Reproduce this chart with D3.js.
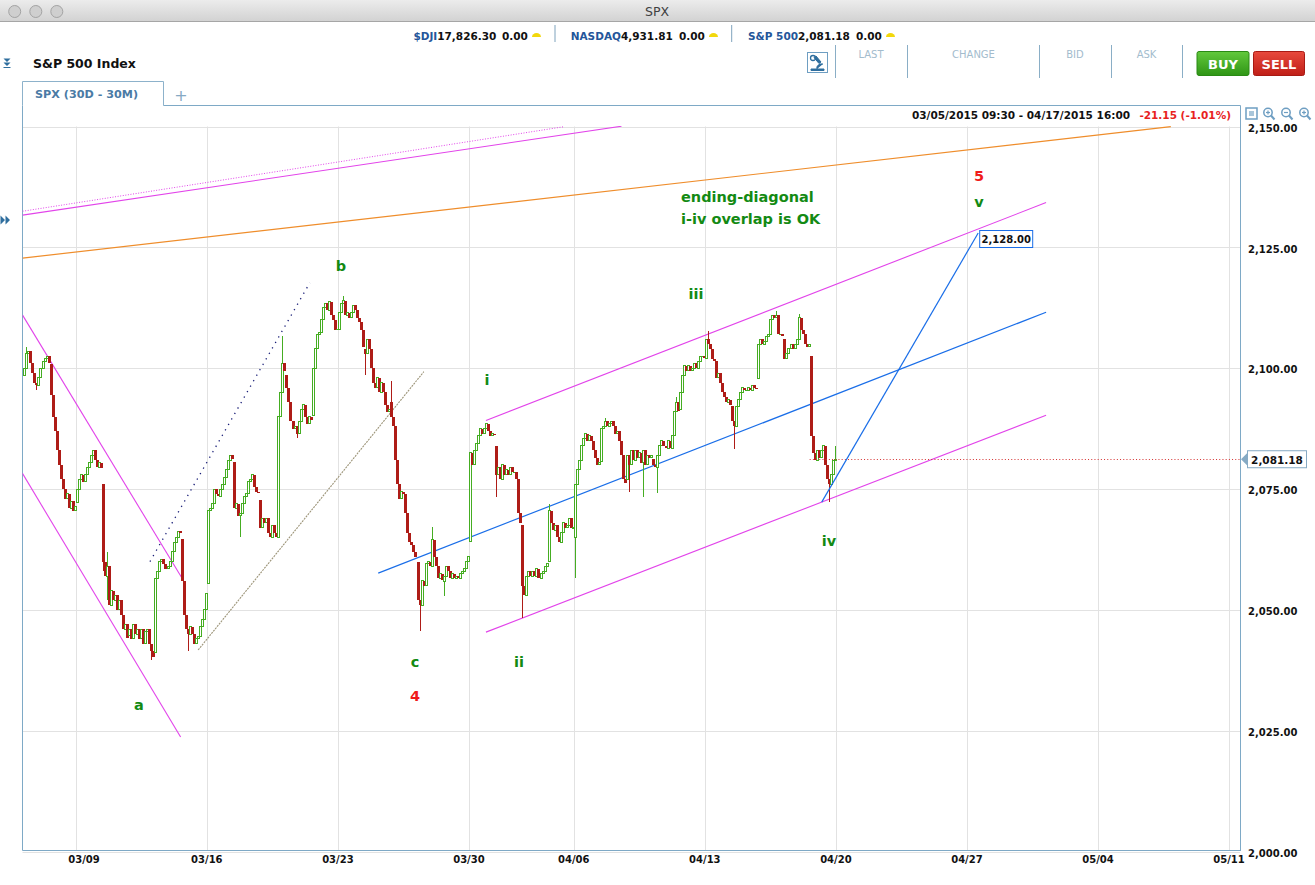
<!DOCTYPE html>
<html><head><meta charset="utf-8">
<script src="https://cdn.jsdelivr.net/npm/d3@7"></script>
<style>
html,body{margin:0;padding:0;background:#fff;overflow:hidden}
svg text{font-family:"DejaVu Sans",Verdana,sans-serif}
</style></head><body>
<svg id="c" width="1315" height="885"></svg>
<script>
// ---------------- DATA ----------------
const tradingDays = ["03/05","03/06","03/09","03/10","03/11","03/12","03/13","03/16","03/17","03/18","03/19","03/20",
  "03/23","03/24","03/25","03/26","03/27","03/30","03/31","04/01","04/02","04/06","04/07","04/08","04/09","04/10",
  "04/13","04/14","04/15","04/16","04/17"];
const dayOpens = [2098.5,2100.9,2072.3,2076.1,2044.7,2041.1,2064.6,2055.4,2080.6,2072.8,2098.7,2090.3,
  2108.0,2103.9,2093.1,2059.9,2055.8,2064.1,2084.0,2067.6,2060.0,2064.9,2080.8,2076.9,2081.3,2091.5,
  2102.0,2092.3,2097.8,2106.0,2102.6];
// 13 half-hour closes per trading day
const closes = [
  [2100,2103,2103.5,2101,2099,2097,2096.5,2098,2100,2101.5,2102,2102.5,2101.0],
  [2094.5,2090,2087,2083,2080,2077,2075,2073,2074,2071,2072.5,2070.5,2071.3],
  [2075,2077,2078,2076.5,2078,2079.5,2080.5,2082,2083,2081,2079.5,2080.5,2079.4],
  [2060,2057,2059,2051,2054,2052,2053,2050,2052,2049,2046,2047,2044.2],
  [2046,2044,2047,2045,2046,2044,2046,2043,2045.5,2046,2043,2041.5,2040.2],
  [2056.5,2058,2060,2060.5,2059.5,2058.5,2059,2060,2062,2064,2065,2066.3,2066.0],
  [2056,2049,2046,2045,2046.5,2045,2043,2044,2044.5,2046.5,2048,2050,2053.4],
  [2070.5,2071,2072,2075,2074,2073.5,2075,2076,2077.5,2079,2081,2082,2081.2],
  [2071,2072,2069.5,2070,2072,2073.5,2074,2076.5,2077,2078,2075.5,2074.5,2074.3],
  [2067,2069,2068,2069,2066,2065,2067.5,2066,2065,2090,2095,2101,2099.5],
  [2096,2093,2089,2087.5,2088,2086.5,2089,2091.5,2092.5,2090,2088.5,2090,2089.3],
  [2100,2104,2107,2107.5,2110,2112.5,2113.5,2112,2113.8,2111,2110,2108,2108.1],
  [2111.5,2113.5,2114,2111,2111.5,2110.5,2111.5,2113,2112,2110.5,2109.5,2108,2104.4],
  [2103,2106,2104,2100,2097,2096,2098,2095,2097,2095,2092.5,2091,2091.5],
  [2090,2088,2081,2076,2073,2074.5,2074,2070,2066,2064,2063.5,2062,2061],
  [2052,2051,2056,2055,2059.5,2060,2059,2064.5,2061,2059,2056.5,2057.5,2056.2],
  [2057,2059,2058,2056.5,2057.5,2056.5,2057,2056.5,2057.5,2058,2058.5,2060,2061],
  [2082.5,2080,2083,2084.5,2086,2087.5,2086.5,2087.5,2088.5,2087,2086,2086.5,2086.2],
  [2078,2079.5,2077,2080,2078,2079,2078,2079.5,2078.5,2078.5,2077,2070,2067.9],
  [2055,2053,2057,2058,2057,2058,2057,2058.5,2056.5,2057.5,2058,2059,2059.7],
  [2070.5,2068,2066.5,2067.5,2065,2064,2066,2068,2067,2067.5,2069,2067,2067],
  [2076,2079,2081,2084,2085.5,2086.5,2085,2086,2085,2083,2081.5,2080,2080.6],
  [2087.5,2088,2089,2088,2088.5,2089,2088,2086.5,2087,2085,2082,2077,2076.3],
  [2082,2080,2083,2081,2083,2081.5,2082.5,2080.5,2083,2080,2082,2081.5,2081.9],
  [2080,2079.5,2082,2084,2085,2084,2083.5,2085,2083.5,2086,2091,2093,2091.2],
  [2095,2098.5,2100.5,2099.5,2100.5,2099.5,2100,2101,2100,2101.5,2102.5,2102.5,2102.1],
  [2106,2105,2104,2102,2101.5,2098,2099,2097,2095,2094,2093,2093.5,2092.4],
  [2089,2088,2092,2093.5,2095,2096,2095.5,2095.5,2096,2095.5,2096.5,2096,2095.8],
  [2105,2106,2105,2105.5,2106.5,2107,2110,2111,2110.5,2111,2107,2107,2106.6],
  [2102,2103,2104,2105,2104,2105,2106,2110.5,2108,2107,2105,2104.5,2105.0],
  [2086,2082.5,2081,2083,2081.5,2083,2084,2080,2077,2076,2078,2081,2081.2]
];
// notable wick extremes: [day, bar, high, low]
const wickExtremes = [
  [0,1,2104.5,null],[0,6,null,2095.5],[3,0,null,2058],[3,2,2062,2052],[4,11,null,2039.7],
  [5,12,2066.4,null],[6,3,null,2041.5],[8,3,null,2065.1],[9,11,2106.7,null],[10,5,null,2085.6],
  [11,8,2113.9,null],[12,2,2114.9,null],[13,0,null,2098.6],[14,0,2097.4,null],[15,1,null,2045.7],
  [15,7,2067.2,null],[16,0,null,2052.8],[18,0,null,2073.4],[19,0,null,2048.4],[20,0,2072,null],
  [21,0,null,2056.5],[22,2,2089.8,null],[23,1,null,2074.5],[23,8,null,2073.3],[24,2,null,2074.2],
  [24,11,2094,null],[26,1,2107.7,null],[27,1,null,2083.2],[28,9,2111.9,null],[29,7,2111.3,null],
  [30,9,null,2072.4],[30,12,2084,null]
];
const tickDays = [2,7,12,17,21,26,31,36,41,46];
const tickLabels = ["03/09","03/16","03/23","03/30","04/06","04/13","04/20","04/27","05/04","05/11"];
const priceTicks = [2000,2025,2050,2075,2100,2125,2150];
const lastPrice = 2081.18;
const targetPrice = 2128.00;
// trend lines: [day0, price0, day1, price1]
const leftChannel = [[-0.03,2111.0,6.05,2056.6],[-0.04,2078.3,6.0,2023.7]];
const rightChannel = [[17.65,2089.2,39.02,2134.3],[17.65,2045.4,39.02,2090.3]];
const topMagenta = [-0.03,2131.7,22.82,2150.1];
const topMagentaDotted = [-0.03,2132.5,20.63,2150.0];
const orangeLine = [-0.03,2122.8,43.78,2150.0];
const dottedB = [4.83,2060.0,10.93,2117.7];
const tanLine = [6.67,2041.7,15.28,2099.3];
const blueMid = [13.54,2057.6,39.02,2111.6];
const blueProj = [30.46,2072.3,36.43,targetPrice];
const waveLabels = ["a","b","c","4","i","ii","iii","iv","5","v"];
const waveDays = [4.41,12.12,14.94,14.94,17.69,18.91,25.66,30.74,36.46,36.46];
const wavePrices = [2030.3,2121.2,2039.2,2032.2,2097.6,2039.2,2115.4,2064.2,2139.8,2134.4];
const noteLines = ["ending-diagonal","i-iv overlap is OK"];
const noteDay = 25.09;
const notePrices = [2135.4,2130.9];
const tickers = [["$DJI","17,826.30","0.00"],["NASDAQ","4,931.81","0.00"],["S&P 500","2,081.18","0.00"]];
const quoteHeads = ["LAST","CHANGE","BID","ASK"];

// ---------------- DRAW ----------------
const svg = d3.select("#c");
const x = d3.scaleLinear().domain([-0.04,46.43]).range([22.3,1240.3]);
const y = d3.scaleLinear().domain([2000,2150]).range([851.5,126.7]);
const GREEN="#45ad22", RED="#ae1c17", MAG="#e244ea", BLUE="#1a6ee8", LBL="#138a13";

const defs = svg.append("defs");
const tg = defs.append("linearGradient").attr("id","tb").attr("x1",0).attr("y1",0).attr("x2",0).attr("y2",1);
tg.append("stop").attr("offset","0").attr("stop-color","#ececec");
tg.append("stop").attr("offset","1").attr("stop-color","#d2d2d2");
const bg = defs.append("linearGradient").attr("id","buy").attr("x1",0).attr("y1",0).attr("x2",0).attr("y2",1);
bg.append("stop").attr("offset","0").attr("stop-color","#62c93c");
bg.append("stop").attr("offset","1").attr("stop-color","#2f9516");
const sg = defs.append("linearGradient").attr("id","sell").attr("x1",0).attr("y1",0).attr("x2",0).attr("y2",1);
sg.append("stop").attr("offset","0").attr("stop-color","#e8493c");
sg.append("stop").attr("offset","1").attr("stop-color","#bf1f18");
defs.append("clipPath").attr("id","clip").append("rect").attr("x",22.5).attr("y",126).attr("width",1217.5).attr("height",724);

// window title bar
svg.append("rect").attr("x",0).attr("y",0).attr("width",1315).attr("height",21.5).attr("fill","url(#tb)");
svg.append("line").attr("x1",0).attr("x2",1315).attr("y1",21.5).attr("y2",21.5).attr("stroke","#a6a6a6");
[14.7,35.8,56.8].forEach(cx=>svg.append("circle").attr("cx",cx).attr("cy",11.5).attr("r",6).attr("fill","#cfcfcf").attr("stroke","#a3a3a3"));
svg.append("text").attr("x",657).attr("y",11.5).attr("dominant-baseline","central").attr("text-anchor","middle")
  .attr("font-size",12.5).attr("fill","#404040").text("SPX");

// ticker strip
const tickStarts=[413.4,570.7,748], zeroX=[502,679,856], sepX=[555,731.7];
tickers.forEach((t,i)=>{
  const tx = svg.append("text").attr("x",tickStarts[i]).attr("y",36).attr("dominant-baseline","central")
    .attr("font-size",10.5).attr("font-weight","bold");
  tx.append("tspan").attr("fill","#24569a").text(t[0]);
  tx.append("tspan").attr("fill","#111").text(t[1]);
  svg.append("text").attr("x",zeroX[i]).attr("y",36).attr("dominant-baseline","central")
    .attr("font-size",10.5).attr("font-weight","bold").attr("fill","#111").text(t[2]);
  const ix = zeroX[i]+30;
  svg.append("path").attr("d",`M${ix},37 a4.5,4 0 0 1 9,0 z`).attr("fill","#f2d80c");
});
sepX.forEach(sx=>svg.append("line").attr("x1",sx).attr("x2",sx).attr("y1",25).attr("y2",42).attr("stroke","#7fa3bd"));

// left title
svg.append("path").attr("d","M3.5,58.5 h7 l-3.5,3.5 z M3.5,62.5 h7 l-3.5,3.5 z").attr("fill","#2f6e9e");
svg.append("line").attr("x1",3.5).attr("x2",10.5).attr("y1",67.5).attr("y2",67.5).attr("stroke","#2f6e9e");
svg.append("text").attr("x",33).attr("y",63).attr("dominant-baseline","central").attr("font-size",12.5)
  .attr("font-weight","bold").attr("fill","#111").text("S&P 500 Index");
svg.append("path").attr("d","M0.5,215.5 l4.5,4.5 l-4.5,4.5 z M5.5,215.5 l4.5,4.5 l-4.5,4.5 z").attr("fill","#2f6e9e");

// microscope icon + quote headers
svg.append("rect").attr("x",807.5).attr("y",52.5).attr("width",20).attr("height",20).attr("fill","#fff").attr("stroke","#6e9ec2");
svg.append("circle").attr("cx",813).attr("cy",58).attr("r",2.5).attr("fill","none").attr("stroke","#2f6e9e").attr("stroke-width",1.3);
svg.append("path").attr("d","M816,56 l5,6 l-2,1.5 l-5,-6 z M811,69 h13 v1.5 h-13 z M817,69 a5,4 0 0 1 6,-5").attr("fill","#2f6e9e").attr("stroke","#2f6e9e");
[835.5,907.5,1039.5,1111.5,1182.5].forEach(sx=>svg.append("line").attr("x1",sx).attr("x2",sx).attr("y1",45).attr("y2",78).attr("stroke","#8aaec6"));
[871,973.5,1075,1146.5].forEach((cx,i)=>svg.append("text").attr("x",cx).attr("y",54).attr("dominant-baseline","central")
  .attr("text-anchor","middle").attr("font-size",10).attr("fill","#a3bccd").text(quoteHeads[i]));
svg.append("rect").attr("x",1197).attr("y",51.5).attr("width",52).attr("height",24).attr("rx",2).attr("fill","url(#buy)").attr("stroke","#2a8a14");
svg.append("rect").attr("x",1253.5).attr("y",51.5).attr("width",51).attr("height",24).attr("rx",2).attr("fill","url(#sell)").attr("stroke","#a81a14");
svg.append("text").attr("x",1223).attr("y",64).attr("dominant-baseline","central").attr("text-anchor","middle")
  .attr("font-size",13).attr("font-weight","bold").attr("fill","#fff").text("BUY");
svg.append("text").attr("x",1279).attr("y",64).attr("dominant-baseline","central").attr("text-anchor","middle")
  .attr("font-size",13).attr("font-weight","bold").attr("fill","#fff").text("SELL");

// tab
svg.append("path").attr("d","M22.5,105.5 V81.5 H163.5 V105.5").attr("fill","none").attr("stroke","#8db2cb");
svg.append("text").attr("x",35).attr("y",94.5).attr("dominant-baseline","central").attr("font-size",11.2)
  .attr("font-weight","bold").attr("fill","#4b7ba5").text("SPX (30D - 30M)");
svg.append("text").attr("x",181).attr("y",95).attr("dominant-baseline","central").attr("text-anchor","middle")
  .attr("font-size",16).attr("fill","#86a9c4").text("+");

// grid
const grid = svg.append("g");
priceTicks.forEach(p=>grid.append("line").attr("x1",22.5).attr("x2",1240).attr("y1",Math.round(y(p))+0.5).attr("y2",Math.round(y(p))+0.5)
  .attr("stroke","#e2e2e2"));
tickDays.forEach(d=>grid.append("line").attr("x1",Math.round(x(d))+0.5).attr("x2",Math.round(x(d))+0.5).attr("y1",126.5).attr("y2",850)
  .attr("stroke","#e2e2e2"));

// frame
svg.append("path").attr("d","M163.5,105.5 H1240.5 V851 M22.5,105.5 V850.5 H1240.5").attr("fill","none").attr("stroke","#7ea9c6");

// header strip
svg.append("text").attr("x",1130).attr("y",114.5).attr("dominant-baseline","central").attr("text-anchor","end")
  .attr("font-size",10.5).attr("font-weight","bold").attr("fill","#111").text("03/05/2015 09:30 - 04/17/2015 16:00");
svg.append("text").attr("x",1231).attr("y",114.5).attr("dominant-baseline","central").attr("text-anchor","end")
  .attr("font-size",10.5).attr("font-weight","bold").attr("fill","#e8221e").text("-21.15 (-1.01%)");
// toolbar icons
const ic = svg.append("g").attr("stroke","#6e9ec2").attr("fill","none").attr("stroke-width",1.5);
ic.append("rect").attr("x",1246).attr("y",108).attr("width",11).attr("height",11);
ic.append("rect").attr("x",1249).attr("y",111).attr("width",5).attr("height",5).attr("fill","#a9c6da").attr("stroke","none");
[[1268,1],[1286,0],[1304,1]].forEach(([cx,plus])=>{
  ic.append("circle").attr("cx",cx).attr("cy",112.5).attr("r",4.2);
  ic.append("line").attr("x1",cx+3).attr("y1",115.5).attr("x2",cx+6.5).attr("y2",119.5).attr("stroke-width",2);
  ic.append("line").attr("x1",cx-2).attr("x2",cx+2).attr("y1",112.5).attr("y2",112.5).attr("stroke-width",1.2);
  if(plus) ic.append("line").attr("x1",cx).attr("x2",cx).attr("y1",110.5).attr("y2",114.5).attr("stroke-width",1.2);
});

// axes labels
priceTicks.forEach(p=>svg.append("text").attr("x",1248).attr("y",y(p)+1.5).attr("dominant-baseline","central")
  .attr("font-size",10).attr("font-weight","bold").attr("fill","#111").text(d3.format(",.2f")(p)));
tickDays.forEach((d,i)=>svg.append("text").attr("x",Math.max(x(d),84)).attr("y",859.5).attr("dominant-baseline","central")
  .attr("text-anchor","middle").attr("font-size",10).attr("font-weight","bold").attr("fill","#111").text(tickLabels[i]));

// plot content
const pg = svg.append("g").attr("clip-path","url(#clip)");
function seg(l,color,w,dash){
  const s = pg.append("line").attr("x1",x(l[0])).attr("y1",y(l[1])).attr("x2",x(l[2])).attr("y2",y(l[3]))
    .attr("stroke",color).attr("stroke-width",w);
  if(dash) s.attr("stroke-dasharray",dash);
  return s;
}
seg(topMagentaDotted,MAG,1,"1,1.6");
seg(topMagenta,MAG,1.1);
seg(orangeLine,"#ef8d2b",1.2);
leftChannel.forEach(l=>seg(l,MAG,1.1));
seg(dottedB,"#1a1f78",1.3,"1.3,5");
seg(tanLine,"#9c9478",1.1,"2,1");
seg(blueMid,BLUE,1.2);
rightChannel.forEach(l=>seg(l,MAG,1.1));

// candles
const bars=[];
closes.forEach((day,di)=>{ let o=dayOpens[di]; day.forEach((c,bi)=>{ bars.push({d:di,b:bi,o:o,c:c,h:Math.max(o,c),l:Math.min(o,c)}); o=c; }); });
wickExtremes.forEach(([d,b,h,l])=>{ const bar=bars[d*13+b]; if(h!=null) bar.h=Math.max(bar.h,h); if(l!=null) bar.l=Math.min(bar.l,l); });
bars.forEach(bar=>{ bar.cx=Math.round(x(bar.d+(bar.b+0.5)/13)); bar.up = bar.c>=bar.o; });
pg.append("g").selectAll("line").data(bars).join("line")
  .attr("x1",b=>b.cx+0.5).attr("x2",b=>b.cx+0.5).attr("y1",b=>y(b.h)).attr("y2",b=>y(b.l))
  .attr("stroke",b=>b.up?GREEN:RED).attr("stroke-width",1).attr("shape-rendering","crispEdges");
pg.append("g").selectAll("rect").data(bars).join("rect")
  .attr("shape-rendering","crispEdges")
  .attr("x",b=>b.up? b.cx-0.5 : b.cx-1)
  .attr("width",b=>b.up?2:3)
  .attr("y",b=>y(Math.max(b.o,b.c)))
  .attr("height",b=>Math.max(Math.abs(y(b.o)-y(b.c)),b.up?0.5:1))
  .attr("fill",b=>b.up?"#fff":RED)
  .attr("stroke",b=>b.up?GREEN:"none").attr("stroke-width",1);

// last price dotted line
pg.append("line").attr("x1",x(30)).attr("x2",1240).attr("y1",Math.round(y(lastPrice))+0.5).attr("y2",Math.round(y(lastPrice))+0.5)
  .attr("stroke","#d43030").attr("stroke-dasharray","1,2.2");
seg(blueProj,BLUE,1.2);

// target box
const tx = x(blueProj[2]), ty = y(targetPrice);
svg.append("rect").attr("x",tx+1.5).attr("y",ty-2.5).attr("width",53).attr("height",17).attr("fill","#fff").attr("stroke",BLUE);
svg.append("text").attr("x",tx+28).attr("y",ty+6).attr("dominant-baseline","central").attr("text-anchor","middle")
  .attr("font-size",10).attr("font-weight","bold").attr("fill","#111").text(d3.format(",.2f")(targetPrice));

// last price label on axis
const ly = y(lastPrice);
svg.append("path").attr("d",`M1241,${ly} L1248,${ly-7} L1248,${ly+7} Z`).attr("fill","#86aac4");
svg.append("rect").attr("x",1247.5).attr("y",ly-8.5).attr("width",59).attr("height",17).attr("fill","#fff").attr("stroke","#86aac4");
svg.append("text").attr("x",1277).attr("y",ly+0.5).attr("dominant-baseline","central").attr("text-anchor","middle")
  .attr("font-size",10.5).attr("font-weight","bold").attr("fill","#111").text(d3.format(",.2f")(lastPrice));

// wave labels
waveLabels.forEach((t,i)=>svg.append("text").attr("x",x(waveDays[i])).attr("y",y(wavePrices[i]))
  .attr("dominant-baseline","central").attr("text-anchor","middle").attr("font-size",14.5).attr("font-weight","bold")
  .attr("fill",(t==="4"||t==="5")?"#f01a1a":LBL).text(t));
noteLines.forEach((t,i)=>svg.append("text").attr("x",x(noteDay)).attr("y",y(notePrices[i]))
  .attr("dominant-baseline","central").attr("font-size",14.5).attr("font-weight","bold").attr("fill",LBL).text(t));
</script>
</body></html>
